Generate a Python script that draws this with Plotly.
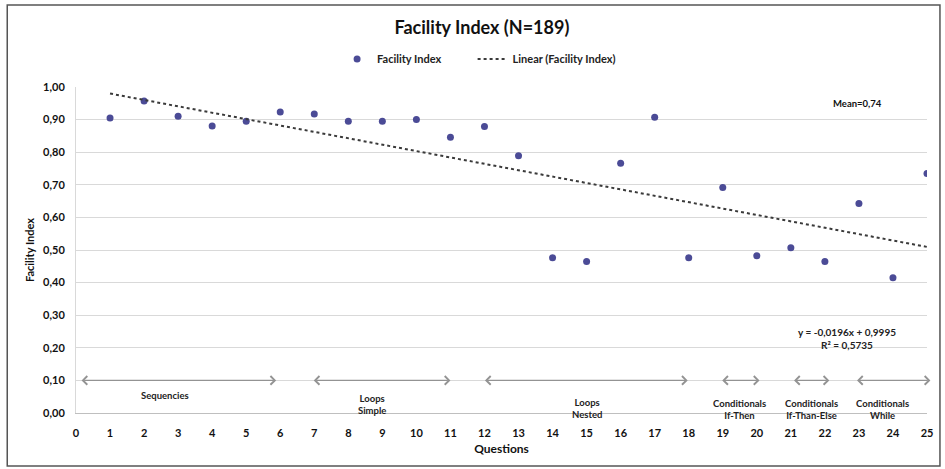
import plotly.graph_objects as go

questions = list(range(1, 26))
facility_index = [0.905, 0.957, 0.91, 0.88, 0.895, 0.923, 0.917, 0.895, 0.895, 0.90,
                  0.846, 0.879, 0.789, 0.476, 0.465, 0.766, 0.907, 0.476, 0.692, 0.482,
                  0.507, 0.465, 0.643, 0.415, 0.735]
trend_slope = -0.0196
trend_intercept = 0.9995
trend_x = [1, 25]
trend_y = [trend_intercept + trend_slope * x for x in trend_x]

group_labels = ["Sequencies", "Loops<br>Simple", "Loops<br>Nested", "Conditionals<br>If-Then",
                "Conditionals<br>If-Than-Else", "Conditionals<br>While"]
group_start = [0.12, 6.94, 11.97, 18.94, 21.05, 22.9]
group_end = [5.88, 11.0, 17.97, 20.08, 22.13, 25.1]
group_label_x = [2.6, 8.7, 15.0, 19.5, 21.6, 23.7]
group_label_y = [0.055, 0.027, 0.015, 0.01, 0.01, 0.01]

FONT = "Lato"
fig = go.Figure()
fig.add_trace(go.Scatter(x=questions, y=facility_index, mode="markers", name="Facility Index",
                         marker=dict(color="#4B4B96", size=7), legend="legend", showlegend=True))
fig.add_trace(go.Scatter(x=trend_x, y=trend_y, mode="lines", name="Linear (Facility Index)",
                         line=dict(color="#3a3a3a", width=2, dash="dot"), legend="legend2",
                         showlegend=True))

annotations = []
for s, e in zip(group_start, group_end):
    annotations.append(dict(x=e, y=0.10, ax=s, ay=0.10, xref="x", yref="y", axref="x", ayref="y",
                            text="", showarrow=True, arrowside="end+start", arrowhead=4,
                            arrowsize=1.3, arrowwidth=1.3, arrowcolor="#939393", standoff=0,
                            startstandoff=0))
for lab, lx, ly in zip(group_labels, group_label_x, group_label_y):
    annotations.append(dict(x=lx, y=ly, xref="x", yref="y", text=lab, showarrow=False,
                            font=dict(family=FONT, size=9.5, color="#222222", weight="bold"),
                            align="center"))
annotations.append(dict(x=22.95, y=0.948, xref="x", yref="y", text="Mean=0,74", showarrow=False,
                        font=dict(family=FONT, size=9.5, color="#111111", weight="bold")))
annotations.append(dict(x=22.65, y=0.23, xref="x", yref="y",
                        text="y = -0,0196x + 0,9995<br>R² = 0,5735", showarrow=False,
                        font=dict(family=FONT, size=10, color="#222222", weight="bold"),
                        align="center"))

legend_font = dict(family=FONT, size=11, color="#222222", weight="bold")
fig.update_layout(
    width=945, height=469,
    showlegend=True,
    margin=dict(l=76, r=15, t=87, b=56),
    paper_bgcolor="white", plot_bgcolor="white",
    separators=",.",
    title=dict(text="Facility Index (N=189)", x=0.51, xanchor="center", y=0.942, yanchor="middle",
               font=dict(family=FONT, size=18, color="#111111", weight="bold")),
    legend=dict(orientation="h", x=(338 - 76) / 854, xanchor="left", y=1.086, yanchor="middle",
                font=legend_font, bgcolor="rgba(0,0,0,0)", visible=True),
    legend2=dict(orientation="h", x=(474 - 76) / 854, xanchor="left", y=1.086, yanchor="middle",
                 font=legend_font, bgcolor="rgba(0,0,0,0)", visible=True),
    xaxis=dict(range=[0, 25], dtick=1, tick0=0, showgrid=False, zeroline=False,
               showline=True, linecolor="#bfbfbf", linewidth=1, ticklabelstandoff=10,
               tickfont=dict(family=FONT, size=11, color="#111111", weight="bold"),
               title=dict(text="Questions", standoff=6,
                          font=dict(family=FONT, size=12, color="#111111", weight="bold"))),
    yaxis=dict(range=[0, 1.0], dtick=0.1, tick0=0, tickformat=".2f", showgrid=True,
               gridcolor="#d9d9d9", zeroline=False, showline=True, linecolor="#d9d9d9",
               ticklabelstandoff=8,
               tickfont=dict(family=FONT, size=11, color="#111111", weight="bold"),
               title=dict(text="Facility Index", standoff=6,
                          font=dict(family=FONT, size=11, color="#111111", weight="bold"))),
    annotations=annotations,
    shapes=[dict(type="rect", xref="paper", yref="paper",
                 x0=(7 - 76) / 854, x1=(943 - 76) / 854,
                 y0=(413 - 466) / 326, y1=(413 - 5) / 326,
                 line=dict(color="#555555", width=1.5), fillcolor="rgba(0,0,0,0)", layer="below")],
)

fig.write_html("out.html", config={"displayModeBar": False},
               post_script="document.body.style.margin='0px';document.body.style.overflow='hidden';")
